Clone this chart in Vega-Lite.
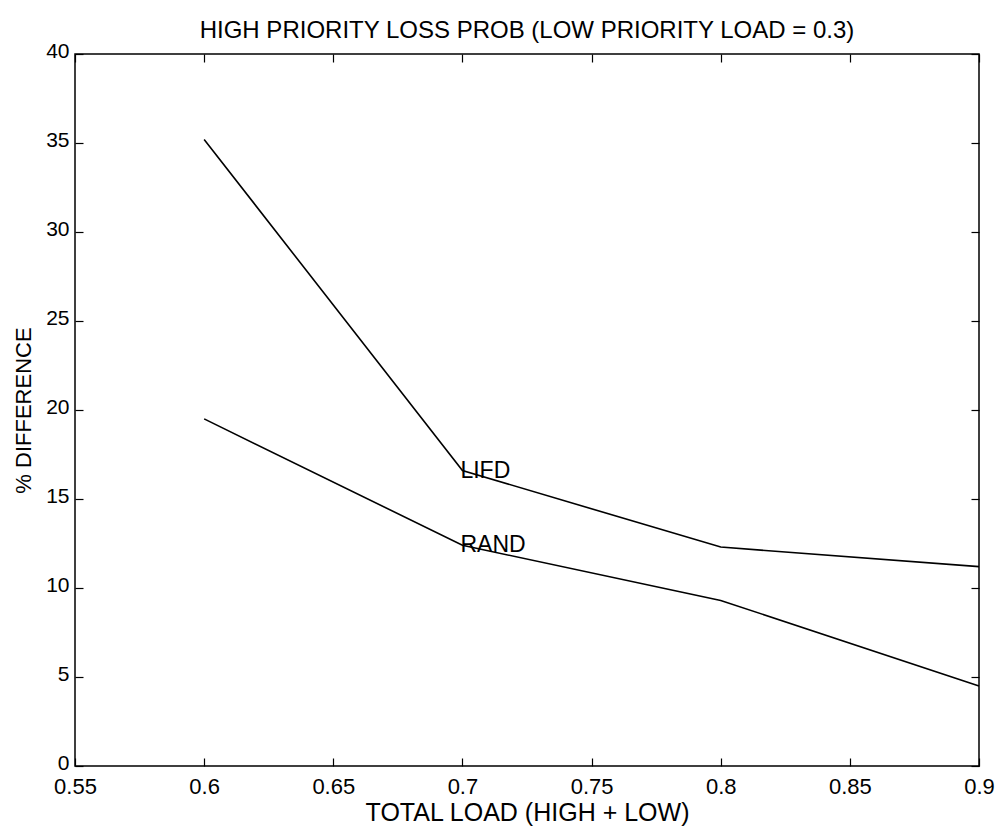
{
  "$schema": "https://vega.github.io/schema/vega-lite/v6.json",
  "width": 904,
  "height": 712,
  "autosize": {"type": "none"},
  "padding": {"left": 75, "top": 54, "right": 19, "bottom": 63},
  "background": "white",
  "title": {
    "text": "HIGH PRIORITY LOSS PROB (LOW PRIORITY LOAD = 0.3)",
    "font": "Liberation Sans",
    "fontSize": 24,
    "fontWeight": "normal",
    "color": "black",
    "anchor": "middle",
    "offset": -3
  },
  "config": {
    "view": {"stroke": "black", "strokeWidth": 1.5},
    "axis": {
      "grid": false,
      "domain": false,
      "tickColor": "black",
      "tickWidth": 1.2,
      "tickSize": -8,
      "labelFont": "Liberation Sans",
      "labelFontSize": 22,
      "labelColor": "black",
      "titleFont": "Liberation Sans",
      "titleFontWeight": "normal",
      "titleColor": "black"
    }
  },
  "data": {
    "values": [
      {"load": 0.6, "diff": 35.2, "series": "LIFD"},
      {"load": 0.7, "diff": 16.6, "series": "LIFD"},
      {"load": 0.8, "diff": 12.3, "series": "LIFD"},
      {"load": 0.9, "diff": 11.2, "series": "LIFD"},
      {"load": 0.6, "diff": 19.5, "series": "RAND"},
      {"load": 0.7, "diff": 12.4, "series": "RAND"},
      {"load": 0.8, "diff": 9.3, "series": "RAND"},
      {"load": 0.9, "diff": 4.5, "series": "RAND"}
    ]
  },
  "layer": [
    {
      "mark": {"type": "line", "color": "black", "strokeWidth": 1.6},
      "encoding": {
        "x": {
          "field": "load", "type": "quantitative",
          "scale": {"domain": [0.55, 0.9], "nice": false, "zero": false},
          "axis": {"orient": "bottom", "title": "TOTAL LOAD (HIGH + LOW)", "titleFontSize": 25, "format": "~g", "values": [0.55, 0.6, 0.65, 0.7, 0.75, 0.8, 0.85, 0.9], "labelPadding": 18, "titlePadding": 3, "labelFlush": false, "labelOverlap": false}
        },
        "y": {
          "field": "diff", "type": "quantitative",
          "scale": {"domain": [0, 40], "nice": false},
          "axis": {"orient": "left", "title": "% DIFFERENCE", "titleFontSize": 22, "labelFontSize": 21, "labelOffset": -3, "values": [0, 5, 10, 15, 20, 25, 30, 35, 40], "labelPadding": 14, "titlePadding": 10, "labelFlush": false, "labelOverlap": false}
        },
        "detail": {"field": "series"}
      }
    },
    {
      "transform": [{"filter": "datum.load == 0.7"}],
      "mark": {"type": "text", "align": "left", "baseline": "middle", "font": "Liberation Sans", "fontSize": 23, "color": "black", "dx": -2},
      "encoding": {
        "x": {"field": "load", "type": "quantitative", "axis": {"orient": "top", "title": null, "labels": false, "values": [0.55, 0.6, 0.65, 0.7, 0.75, 0.8, 0.85, 0.9]}},
        "y": {"field": "diff", "type": "quantitative", "axis": {"orient": "right", "title": null, "labels": false, "values": [0, 5, 10, 15, 20, 25, 30, 35, 40]}},
        "text": {"field": "series"}
      }
    }
  ],
  "resolve": {"axis": {"x": "independent", "y": "independent"}}
}
